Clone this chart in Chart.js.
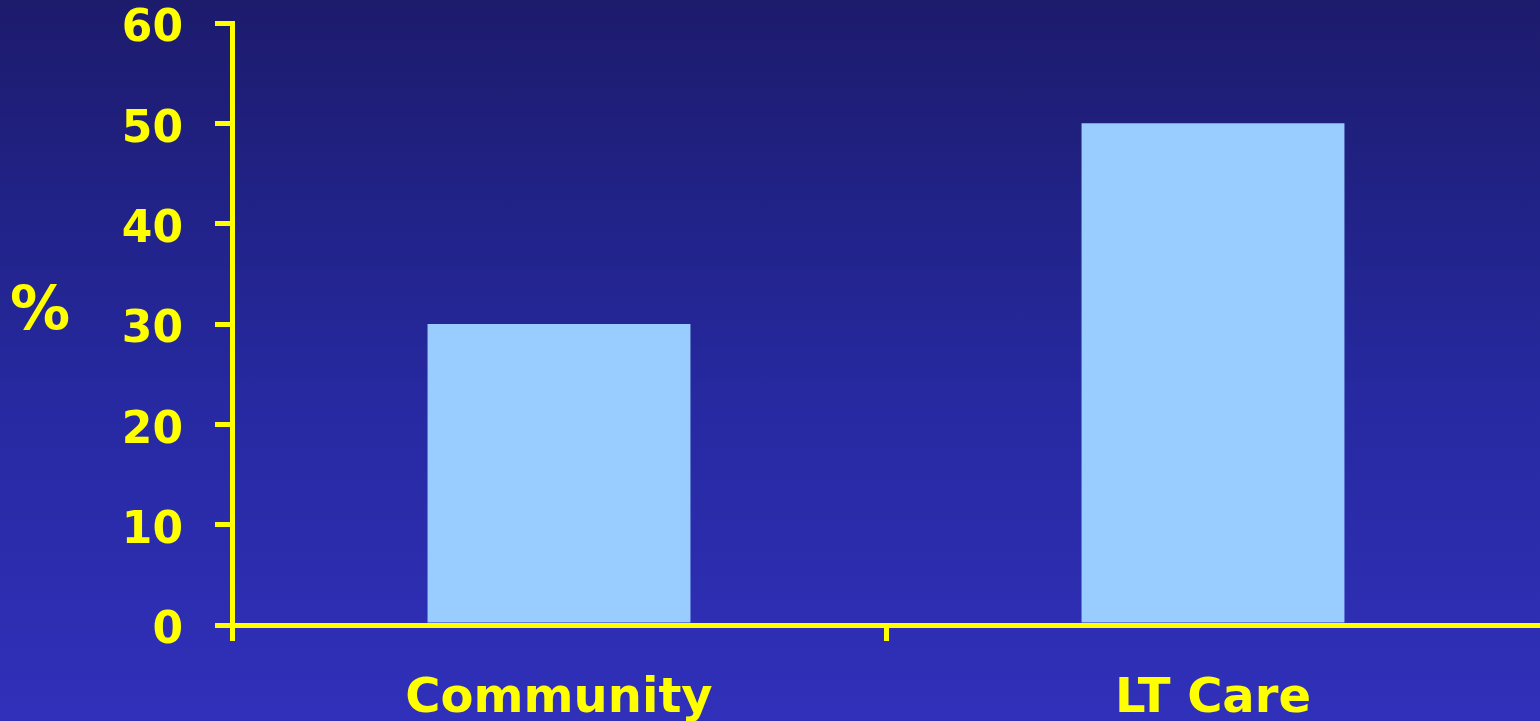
<!DOCTYPE html>
<html>
<head>
<meta charset="utf-8">
<script src="https://cdn.jsdelivr.net/npm/chart.js@4/dist/chart.umd.min.js"></script>
<style>
  html, body { margin: 0; padding: 0; }
  body {
    width: 1540px; height: 721px; overflow: hidden;
    background: linear-gradient(to bottom, #1c1b6c 0%, #2629a0 55%, #3030ba 100%);
  }
  #wrap { position: relative; width: 1540px; height: 721px; }
</style>
</head>
<body>
<div id="wrap"><canvas id="myChart" width="1540" height="721"></canvas></div>
<script>
// datos del grafico
var categorias = ["Community", "LT Care"];
var porcentajes = [30, 50];
var yMin = 0, yMax = 60, yPaso = 10;
var tituloY = "%";

var amarillo = "#ffff00";
var fuente = "'DejaVu Sans', 'Liberation Sans', Arial, sans-serif";

// dibuja el "%" horizontal a la izquierda del eje
var tituloPlugin = {
    id: "tituloY",
    afterDraw: function (chart) {
        var ctx = chart.ctx;
        ctx.save();
        ctx.fillStyle = amarillo;
        ctx.font = "bold 60px " + fuente;
        ctx.textAlign = "center";
        ctx.textBaseline = "middle";
        ctx.fillText(tituloY, 40, chart.chartArea.top + (chart.chartArea.bottom - chart.chartArea.top) * 0.483);
        ctx.restore();
    }
};

var canvas = document.getElementById("myChart").getContext("2d");
window.bar = new Chart(canvas, {
    type: "bar",
    data: {
        labels: categorias,
        datasets: [{
            label: "%",
            backgroundColor: "#99ccff",
            borderWidth: 0,
            data: porcentajes,
            barPercentage: 0.402,
            categoryPercentage: 1.0
        }]
    },
    options: {
        responsive: false,
        animation: false,
        layout: {
            padding: { left: 0, right: 0, top: 23, bottom: 0 }
        },
        plugins: {
            legend: { display: false },
            tooltip: { enabled: false },
            title: { display: false }
        },
        scales: {
            x: {
                afterFit: function (scale) {
                    scale.height = 96;
                    scale.paddingLeft = 0;
                    scale.paddingRight = 0;
                },
                grid: {
                    display: true,
                    drawOnChartArea: false,
                    drawTicks: true,
                    tickLength: 16,
                    color: amarillo,
                    // sin marca en el borde derecho
                    tickColor: function (c) {
                        return c.type !== "tick" ? "rgba(0,0,0,0)" : amarillo;
                    },
                    lineWidth: 5
                },
                border: { display: true, color: amarillo, width: 5 },
                ticks: {
                    color: amarillo,
                    padding: 30,
                    maxRotation: 0,
                    font: { family: fuente, size: 48, weight: "bold" }
                }
            },
            y: {
                min: yMin,
                max: yMax,
                afterFit: function (scale) {
                    scale.width = 232;
                    scale.paddingTop = 0;
                    scale.paddingBottom = 0;
                },
                grid: {
                    display: true,
                    drawOnChartArea: false,
                    drawTicks: true,
                    tickLength: 17,
                    color: amarillo,
                    lineWidth: 5
                },
                border: { display: true, color: amarillo, width: 5 },
                ticks: {
                    stepSize: yPaso,
                    color: amarillo,
                    padding: 32,
                    labelOffset: 7,
                    font: { family: fuente, size: 44, weight: "bold" }
                }
            }
        }
    },
    plugins: [tituloPlugin]
});
</script>
</body>
</html>
